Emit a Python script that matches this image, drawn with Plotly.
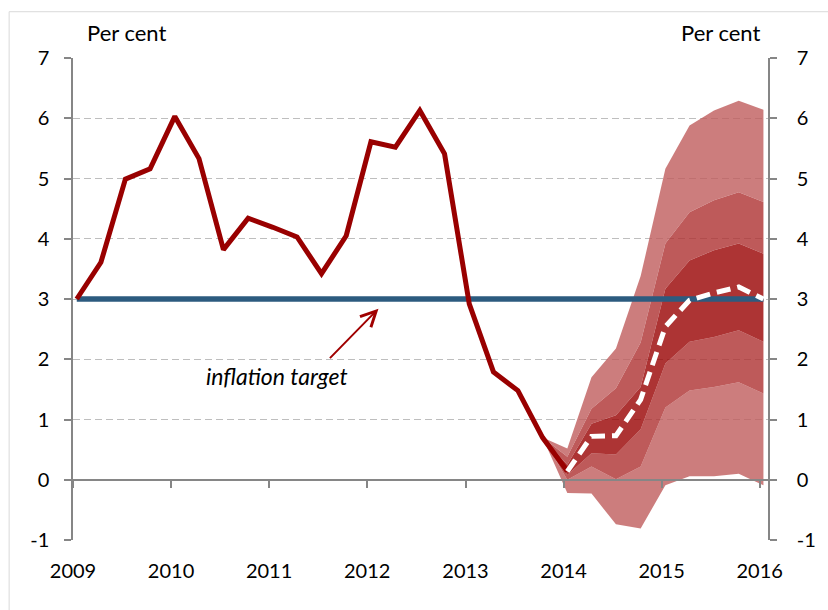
import plotly.graph_objects as go

# ---------------- data ----------------
actual_quarters = ["2009Q1", "2009Q2", "2009Q3", "2009Q4",
                   "2010Q1", "2010Q2", "2010Q3", "2010Q4",
                   "2011Q1", "2011Q2", "2011Q3", "2011Q4",
                   "2012Q1", "2012Q2", "2012Q3", "2012Q4",
                   "2013Q1", "2013Q2", "2013Q3", "2013Q4",
                   "2014Q1"]
actual_values = [3.00, 3.61, 4.99, 5.16,
                 6.03, 5.33, 3.82, 4.34,
                 4.19, 4.03, 3.42, 4.05,
                 5.61, 5.52, 6.13, 5.41,
                 2.92, 1.79, 1.48, 0.70,
                 0.14]

target_quarters = ["2009Q1", "2016Q1"]
target_values = [3.0, 3.0]

fan_quarters = ["2013Q4", "2014Q1", "2014Q2", "2014Q3", "2014Q4",
                "2015Q1", "2015Q2", "2015Q3", "2015Q4", "2016Q1"]
fan_outer_upper = [0.70, 0.52, 1.70, 2.18, 3.38, 5.16, 5.88, 6.13, 6.29, 6.14]
fan_mid_upper   = [0.70, 0.38, 1.18, 1.52, 2.28, 3.92, 4.44, 4.64, 4.77, 4.61]
fan_inner_upper = [0.70, 0.25, 0.93, 1.07, 1.54, 3.17, 3.64, 3.81, 3.92, 3.75]
fan_inner_lower = [0.70, 0.08, 0.44, 0.42, 0.84, 1.93, 2.29, 2.37, 2.48, 2.29]
fan_mid_lower   = [0.70, 0.00, 0.22, 0.01, 0.22, 1.20, 1.48, 1.54, 1.62, 1.43]
fan_outer_lower = [0.70, -0.22, -0.23, -0.74, -0.81, -0.09, 0.06, 0.06, 0.10, -0.09]

median_quarters = ["2014Q1", "2014Q2", "2014Q3", "2014Q4",
                   "2015Q1", "2015Q2", "2015Q3", "2015Q4", "2016Q1"]
median_values = [0.14, 0.72, 0.73, 1.33, 2.54, 2.98, 3.10, 3.20, 3.00]

year_labels = ["2009", "2010", "2011", "2012", "2013", "2014", "2015", "2016"]
y_tick_values = [-1, 0, 1, 2, 3, 4, 5, 6, 7]
y_tick_labels = ["-1", "0", "1", "2", "3", "4", "5", "6", "7"]


def qdate(q):
    year, quarter = q.split("Q")
    month = 1 + 3 * (int(quarter) - 1)
    return f"{year}-{month:02d}-15"


def qdates(qs):
    return [qdate(q) for q in qs]


year_ticks = [f"{y}-01-01" for y in year_labels]
x_range = ["2009-01-01", "2016-02-01"]

AXIS = "#868686"
GRID = "#BEBEBE"
RED = "#990000"
BLUE = "#2C5B7F"
LIGHT = "rgba(191,93,93,0.8)"
MEDIUM = "rgba(174,49,49,0.8)"
DARK = "rgba(153,1,1,0.8)"
FONT = "Lato"

fig = go.Figure()

fx = qdates(fan_quarters)
bounds = [
    (fan_outer_lower, None),
    (fan_mid_lower, LIGHT),
    (fan_inner_lower, MEDIUM),
    (fan_inner_upper, DARK),
    (fan_mid_upper, MEDIUM),
    (fan_outer_upper, LIGHT),
]
for vals, col in bounds:
    fig.add_trace(go.Scatter(
        x=fx, y=vals, mode="lines", line=dict(width=0, color="rgba(0,0,0,0)"),
        fill=None if col is None else "tonexty", fillcolor=col,
        hoverinfo="skip", showlegend=False))

fig.add_trace(go.Scatter(
    x=qdates(target_quarters), y=target_values, mode="lines",
    line=dict(color=BLUE, width=5.5), showlegend=False))

fig.add_trace(go.Scatter(
    x=qdates(actual_quarters), y=actual_values, mode="lines",
    line=dict(color=RED, width=5), showlegend=False))

fig.add_trace(go.Scatter(
    x=qdates(median_quarters), y=median_values, mode="lines",
    line=dict(color="white", width=5, dash="14px,7px"),
    xaxis="x2", yaxis="y2", showlegend=False))

fig.update_layout(
    width=828, height=610,
    margin=dict(l=73, r=51, t=58, b=70),
    paper_bgcolor="white", plot_bgcolor="white",
    showlegend=False,
    font=dict(family=FONT, size=20, color="#000000"),
    xaxis=dict(
        type="date", range=x_range, tickmode="array",
        tickvals=year_ticks, ticktext=year_labels,
        showgrid=False, showline=False, zeroline=False, ticks="",
        ticklabelstandoff=17, tickfont=dict(family=FONT, size=20),
        fixedrange=True),
    xaxis2=dict(
        type="date", range=x_range, overlaying="x", anchor="free",
        position=0.125, tickmode="array", tickvals=year_ticks,
        showticklabels=False, ticks="outside", ticklen=7, tickwidth=1.5,
        tickcolor=AXIS, showline=True, linecolor=AXIS, linewidth=1.5,
        showgrid=False, zeroline=False),
    yaxis=dict(
        range=[-1, 7], tickmode="array", tickvals=y_tick_values,
        ticktext=y_tick_labels,
        showgrid=True, gridcolor=GRID, gridwidth=1.4, griddash="7px,4px",
        zeroline=False, showline=True, linecolor=AXIS, linewidth=1.5,
        ticks="outside", ticklen=7, tickwidth=1.5, tickcolor=AXIS,
        ticklabelstandoff=11, tickfont=dict(family=FONT, size=20)),
    yaxis2=dict(
        range=[-1, 7], overlaying="y", side="right", tickmode="array",
        tickvals=y_tick_values, ticktext=y_tick_labels,
        showgrid=False, zeroline=False,
        showline=True, linecolor=AXIS, linewidth=1.5,
        ticks="outside", ticklen=7, tickwidth=1.5, tickcolor=AXIS,
        ticklabelstandoff=16, tickfont=dict(family=FONT, size=20)),
)

fig.add_annotation(text="Per cent", xref="paper", yref="paper",
                   x=0.0774, y=1.052, showarrow=False,
                   font=dict(family=FONT, size=22), xanchor="center", yanchor="middle")
fig.add_annotation(text="Per cent", xref="paper", yref="paper",
                   x=0.931, y=1.052, showarrow=False,
                   font=dict(family=FONT, size=22), xanchor="center", yanchor="middle")

fig.add_annotation(text="<i>inflation target</i>", x="2011-02-01", y=1.73,
                   showarrow=False, font=dict(family=FONT, size=23),
                   xanchor="center", yanchor="middle")
fig.add_annotation(text="", x="2012-02-12", y=2.84, ax=-50, ay=51,
                   showarrow=True, arrowhead=5, arrowsize=1.5, arrowwidth=2,
                   arrowcolor="#A00000")

fig.add_shape(type="rect", xref="paper", yref="paper",
              x0=-0.0919, x1=1.3, y0=-0.3, y1=1.096,
              line=dict(color="#D9D9D9", width=1), fillcolor="rgba(0,0,0,0)",
              layer="below")

fig.write_html("out.html", config={"displayModeBar": False},
               post_script="document.body.style.margin='0';document.body.style.overflow='hidden';")
